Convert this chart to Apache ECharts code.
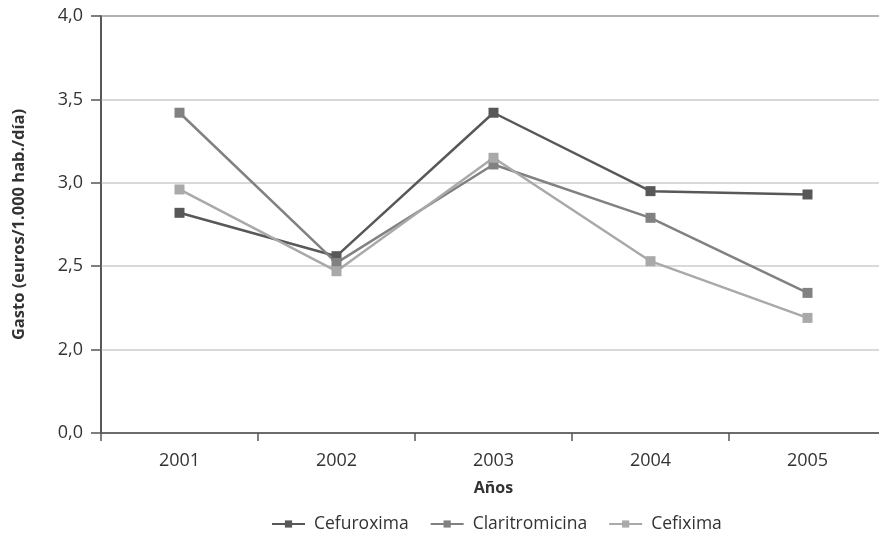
<!DOCTYPE html>
<html><head><meta charset="utf-8">
<script src="https://cdn.jsdelivr.net/npm/echarts@6/dist/echarts.min.js"></script>
<style>html,body{margin:0;padding:0;background:#fff}#c{width:879px;height:534px}</style>
</head><body><div id="c"></div>
<script>
var years = ['2001','2002','2003','2004','2005'];
var cefuroxima = [2.82, 2.56, 3.42, 2.95, 2.93];
var claritromicina = [3.42, 2.52, 3.11, 2.79, 2.34];
var cefixima = [2.96, 2.47, 3.15, 2.53, 2.19];
var seriesNames = ['Cefuroxima','Claritromicina','Cefixima'];
// the reference's value axis is broken: its lowest tick reads 0,0 and sits one step below 2,0
var axisBreakBottom = 1.5;
var axisBreakLabel = '0,0';
var colors = ['#58585a','#818181','#a9a9a9'];
var font = 'Open Sans';

var chart = echarts.init(document.getElementById('c'));
var datasets = [cefuroxima, claritromicina, cefixima];
chart.setOption({
  animation: false,
  backgroundColor: '#fff',
  grid: {left: 101, right: -7, top: 16, bottom: 101, outerBoundsMode: 'none', containLabel: false,
    show: true, borderColor: '#333', borderWidth: 1.5, backgroundColor: 'transparent'},
  legend: {
    left: 266, top: 510, itemWidth: 33, itemHeight: 9, itemGap: 21,
    textStyle: {fontFamily: font, fontSize: 17.5, color: '#333', padding: [0, 0, 0, 4]},
    data: seriesNames
  },
  xAxis: {
    type: 'category', data: years, boundaryGap: true,
    name: 'Años', nameLocation: 'middle', nameGap: 47,
    nameTextStyle: {fontFamily: font, fontSize: 16, fontWeight: 'bold', color: '#333'},
    axisLine: {lineStyle: {color: '#555', width: 1.5}},
    axisTick: {show: true, length: 8, interval: 0, lineStyle: {color: '#555', width: 1.5}},
    axisLabel: {fontFamily: font, fontSize: 18, color: '#333', margin: 19}
  },
  yAxis: {
    type: 'value', min: axisBreakBottom, max: 4, interval: 0.5,
    name: 'Gasto (euros/1.000 hab./día)', nameLocation: 'middle', nameGap: 73,
    nameTextStyle: {fontFamily: font, fontSize: 16.5, fontWeight: 'bold', color: '#333'},
    axisLine: {show: true, lineStyle: {color: '#555', width: 1.5}},
    axisTick: {show: true, length: 10, lineStyle: {color: '#555', width: 1.5}},
    axisLabel: {fontFamily: font, fontSize: 18, color: '#333', margin: 18,
      formatter: function(v){ return v === axisBreakBottom ? axisBreakLabel : v.toFixed(1).replace('.', ','); }},
    splitLine: {show: true, lineStyle: {color: '#cccccc', width: 1.5}}
  },
  series: datasets.map(function(d, i){
    return {
      name: seriesNames[i], type: 'line', data: d,
      symbol: 'rect', symbolSize: 10,
      lineStyle: {color: colors[i], width: 2.5},
      itemStyle: {color: colors[i]}
    };
  })
});
</script></body></html>
